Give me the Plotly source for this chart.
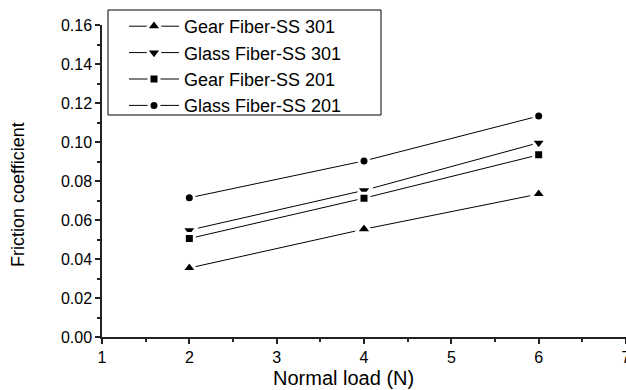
import plotly.graph_objects as go

load = [2, 4, 6]
gear_301 = [0.0354, 0.0553, 0.0733]
glass_301 = [0.0548, 0.0752, 0.0996]
gear_201 = [0.0505, 0.0712, 0.0934]
glass_201 = [0.0714, 0.0903, 0.1133]

names = ["Gear Fiber-SS 301", "Glass Fiber-SS 301", "Gear Fiber-SS 201", "Glass Fiber-SS 201"]
series = [gear_301, glass_301, gear_201, glass_201]
symbols = ["triangle-up", "triangle-down", "square", "circle"]
sizes = [14, 14, 10, 10]

FONT = "Liberation Sans, Arial"

fig = go.Figure()
for n, s, sym, sz in zip(names, series, symbols, sizes):
    fig.add_trace(go.Scatter(
        x=load, y=s, name=n, mode="lines+markers",
        line=dict(color="black", width=1),
        marker=dict(symbol=sym, size=sz, color="black",
                    line=dict(color="white", width=3)),
    ))

axis_common = dict(
    showgrid=False, zeroline=False, showline=True, linecolor="#222",
    linewidth=1.5, ticks="outside", ticklen=5, tickwidth=1.5, tickcolor="#222",
    tickfont=dict(family=FONT, size=16, color="black"),
    mirror=False,
)

fig.update_xaxes(
    range=[1, 7], dtick=1, tick0=1,
    minor=dict(ticks="outside", ticklen=3, tickwidth=1.5, tickcolor="#222", dtick=0.5, tick0=1),
    ticklabeloverflow="allow", automargin=False,
    **axis_common,
)
fig.update_yaxes(
    range=[0, 0.16], dtick=0.02, tick0=0, tickformat=".2f",
    minor=dict(ticks="outside", ticklen=3, tickwidth=1.5, tickcolor="#222", dtick=0.01, tick0=0),
    automargin=False,
    **axis_common,
)

fig.add_annotation(
    text="Friction coefficient", textangle=-90,
    xref="paper", yref="paper", x=-0.1603, y=0.455,
    xanchor="center", yanchor="middle", showarrow=False,
    font=dict(family=FONT, size=18, color="black"),
)
fig.add_annotation(
    text="Normal load (N)",
    xref="paper", yref="paper", x=(343 - 102) / 524, y=-(378 - 337) / 312,
    xanchor="center", yanchor="middle", showarrow=False,
    font=dict(family=FONT, size=20, color="black"),
)

# legend frame
fig.add_shape(
    type="rect", xref="paper", yref="paper",
    x0=(108 - 102) / 524, x1=(381 - 102) / 524,
    y0=(337 - 115) / 312, y1=(337 - 10) / 312,
    line=dict(color="black", width=1), fillcolor="white", layer="above",
)

fig.update_layout(
    width=626, height=390,
    margin=dict(l=102, r=0, t=25, b=53),
    plot_bgcolor="white", paper_bgcolor="white",
    legend=dict(
        x=(124 - 102) / 524, y=(337 - 8) / 312, xanchor="left", yanchor="top",
        bgcolor="rgba(0,0,0,0)", borderwidth=0,
        font=dict(family=FONT, size=18, color="black"),
        tracegroupgap=0, itemwidth=50,
    ),
)

fig.write_html("out.html")
